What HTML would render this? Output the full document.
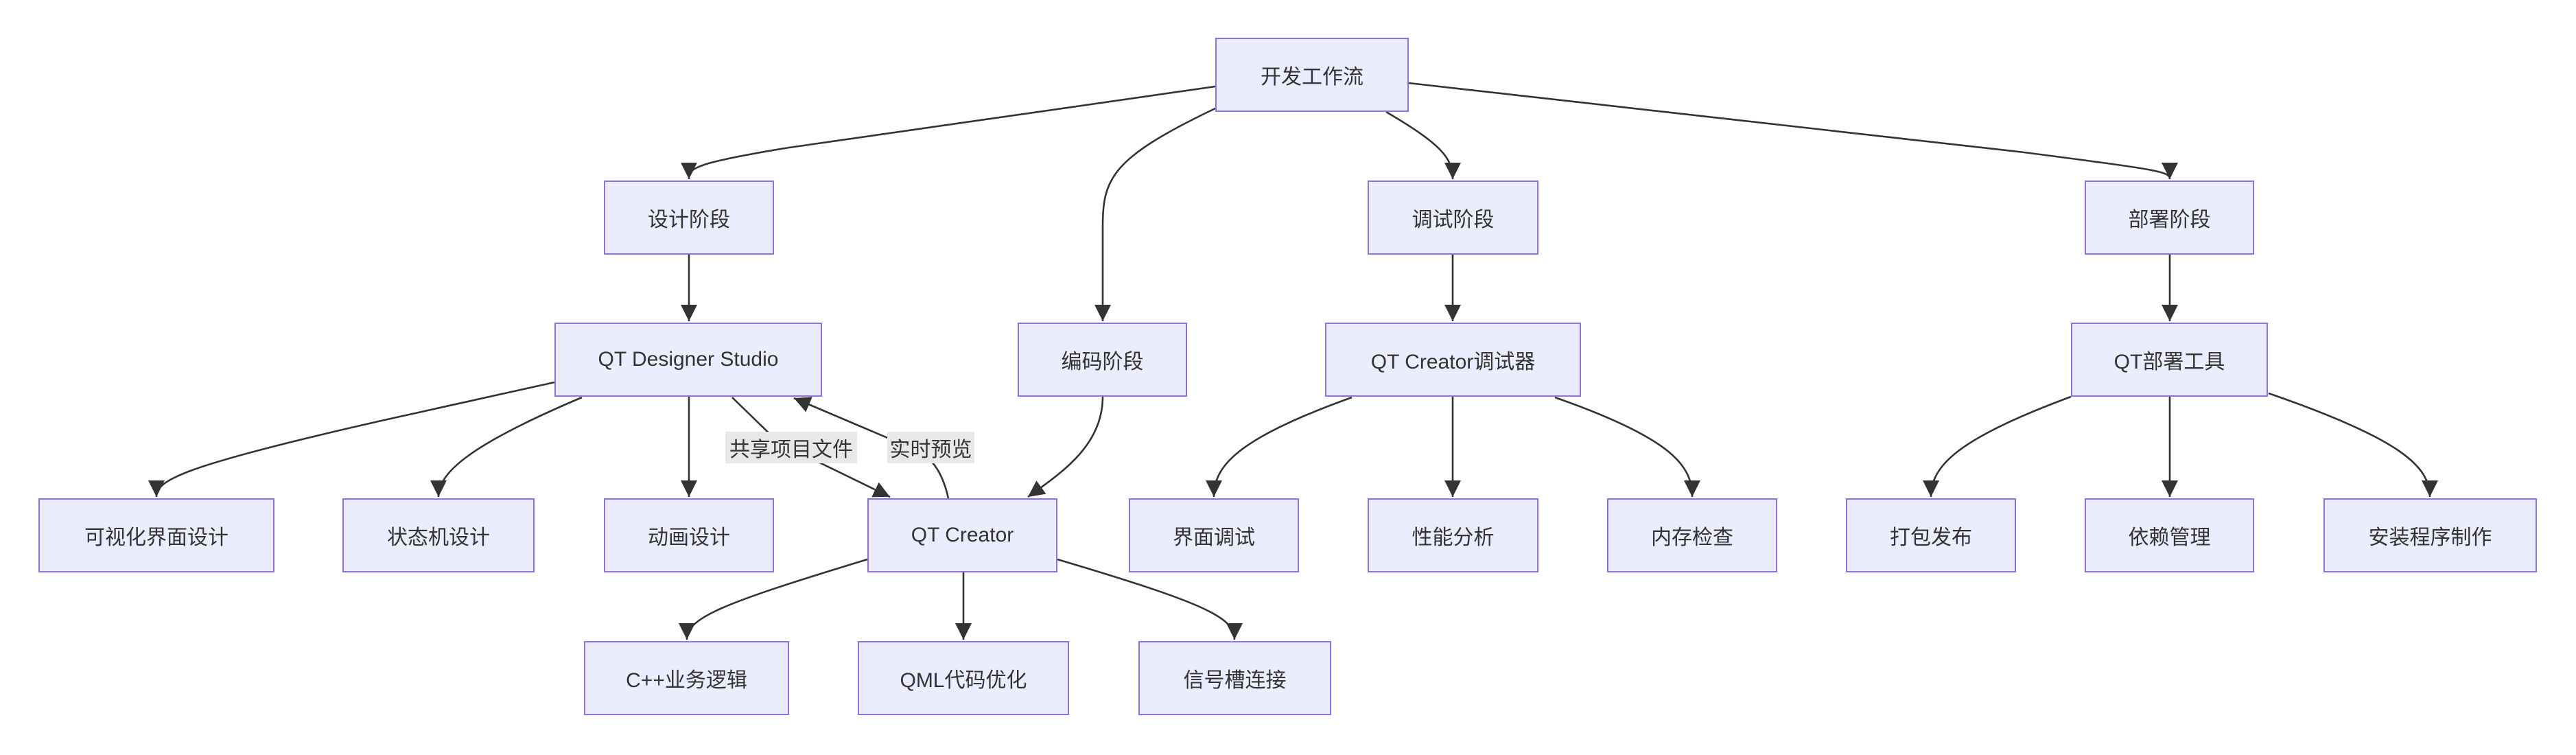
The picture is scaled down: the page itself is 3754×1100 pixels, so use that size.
<!DOCTYPE html>
<html><head><meta charset="utf-8">
<style>
html,body{margin:0;padding:0;background:#fff;}
#c{position:relative;width:3754px;height:1100px;overflow:hidden;background:#fff;font-family:"Liberation Sans","Noto Sans CJK SC",sans-serif;}
.n{position:absolute;box-sizing:border-box;background:#ECECFF;border:2.4px solid #9370DB;display:flex;align-items:center;justify-content:center;font-size:30px;color:#333;white-space:nowrap;}
.l{position:absolute;background:#e8e8e8;font-size:30px;color:#333;display:flex;align-items:center;justify-content:center;white-space:nowrap;}
svg{position:absolute;left:0;top:0;}
</style></head><body><div id="c">
<svg width="3754" height="1100" viewBox="0 0 3754 1100">
<defs><marker id="a" markerUnits="userSpaceOnUse" markerWidth="24" markerHeight="24" viewBox="0 0 10 10" refX="10" refY="5" orient="auto"><path d="M0,0 L10,5 L0,10 z" fill="#333"/></marker></defs>
<g fill="none" stroke="#333" stroke-width="2.6" marker-end="url(#a)">
<path d="M1771,126 L1150,215 C1010,238 1004,245 1004,261"/>
<path d="M1771,158 C1620,230 1607,260 1607,330 L1607,468"/>
<path d="M2020,163 C2100,210 2117,230 2117,261"/>
<path d="M2053,121 L2950,222 C3150,248 3162,250 3162,261"/>
<path d="M1004,371 L1004,468"/>
<path d="M2117,371 L2117,468"/>
<path d="M3162,371 L3162,468"/>
<path d="M808,557 L560,612 C260,680 228,700 228,724"/>
<path d="M848,579 C680,650 639,690 639,724"/>
<path d="M1004,578 L1004,724"/>
<path d="M1067,579 L1135,645 L1297,724"/>
<path d="M1382,726 C1372,680 1350,655 1310,645 L1157,580"/>
<path d="M1607,578 C1607,650 1545,690 1498,724"/>
<path d="M1264,815 C1050,880 1001,900 1001,932"/>
<path d="M1404,834 L1404,932"/>
<path d="M1541,815 C1760,880 1799,900 1799,932"/>
<path d="M1970,579 C1800,640 1769,680 1769,724"/>
<path d="M2117,578 L2117,724"/>
<path d="M2266,579 C2440,640 2466,680 2466,724"/>
<path d="M3018,578 C2850,640 2814,680 2814,724"/>
<path d="M3162,578 L3162,724"/>
<path d="M3306,573 C3500,640 3541,680 3541,724"/>
</g>
</svg>
<div class="l" style="left:1057px;top:629px;width:192px;height:46px;">共享项目文件</div>
<div class="l" style="left:1293px;top:629px;width:127px;height:46px;">实时预览</div>

<div class="n" style="left:1771px;top:55px;width:282px;height:108px;">开发工作流</div>
<div class="n" style="left:880px;top:263px;width:248px;height:108px;">设计阶段</div>
<div class="n" style="left:1993px;top:263px;width:249px;height:108px;">调试阶段</div>
<div class="n" style="left:3038px;top:263px;width:247px;height:108px;">部署阶段</div>
<div class="n" style="left:808px;top:470px;width:390px;height:108px;">QT Designer Studio</div>
<div class="n" style="left:1483px;top:470px;width:247px;height:108px;">编码阶段</div>
<div class="n" style="left:1931px;top:470px;width:373px;height:108px;">QT Creator调试器</div>
<div class="n" style="left:3018px;top:470px;width:287px;height:108px;">QT部署工具</div>
<div class="n" style="left:56px;top:726px;width:344px;height:108px;">可视化界面设计</div>
<div class="n" style="left:499px;top:726px;width:280px;height:108px;">状态机设计</div>
<div class="n" style="left:880px;top:726px;width:248px;height:108px;">动画设计</div>
<div class="n" style="left:1264px;top:726px;width:277px;height:108px;">QT Creator</div>
<div class="n" style="left:1645px;top:726px;width:248px;height:108px;">界面调试</div>
<div class="n" style="left:1993px;top:726px;width:249px;height:108px;">性能分析</div>
<div class="n" style="left:2342px;top:726px;width:248px;height:108px;">内存检查</div>
<div class="n" style="left:2690px;top:726px;width:248px;height:108px;">打包发布</div>
<div class="n" style="left:3038px;top:726px;width:247px;height:108px;">依赖管理</div>
<div class="n" style="left:3386px;top:726px;width:311px;height:108px;">安装程序制作</div>
<div class="n" style="left:851px;top:934px;width:299px;height:108px;">C++业务逻辑</div>
<div class="n" style="left:1250px;top:934px;width:308px;height:108px;">QML代码优化</div>
<div class="n" style="left:1659px;top:934px;width:281px;height:108px;">信号槽连接</div>
</div></body></html>
